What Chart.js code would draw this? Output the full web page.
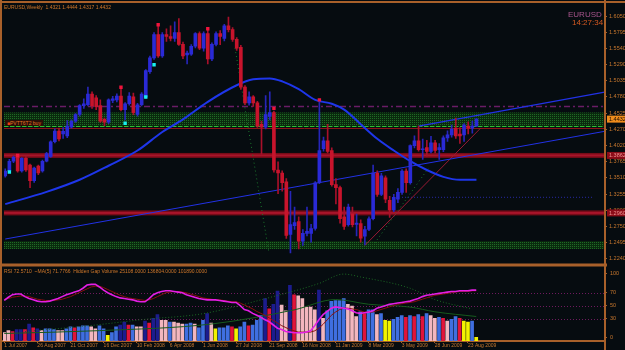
<!DOCTYPE html>
<html>
<head>
<meta charset="utf-8">
<script src="https://cdn.jsdelivr.net/npm/chart.js@4.4.1/dist/chart.umd.min.js"></script>
<style>
  html, body { margin: 0; padding: 0; background: #060c10; }
  #wrap { position: relative; width: 625px; height: 350px; overflow: hidden; background: #060c10; font-family: "Liberation Sans", Arial, sans-serif; }
  canvas { position: absolute; left: 0; }
  #main { top: 0; }
  #sub { top: 264px; }
  .txt { position: absolute; white-space: pre; font-size: 5px; line-height: 6px; color: #d0782a; }
</style>
</head>
<body>
<div id="wrap">
  <canvas id="main" width="625" height="265"></canvas>
  <canvas id="sub" width="625" height="86"></canvas>
  <div class="txt" style="left:4px;top:4px;">EURUSD,Weekly  1.4321 1.4444 1.4317 1.4432</div>
  <div class="txt" style="left:568px;top:10px;font-size:8px;line-height:9px;color:#a8558c;">EURUSD</div>
  <div class="txt" style="left:572px;top:18px;font-size:8px;line-height:9px;color:#d65a22;">14:27:34</div>
  <div class="txt" style="left:5px;top:120px;background:#2c1008;color:#e07424;padding:0 2px;"><span style="color:#f04010">■</span>PVTT6T2 buy</div>
  <div class="txt" style="left:4px;top:268px;">RSI 72.5710  ~MA(5) 71.7766  Hidden Gap Volume 25108.0000 136804.0000 101890.0000</div>
</div>
<script>
// weekly EURUSD candles, first bar = week of 1 Jul 2007
const weekOpen = [1.3541,1.3618,1.3771,1.3832,1.3618,1.3817,1.3710,1.3465,1.3694,1.3618,
  1.3771,1.3847,1.4077,1.4245,1.4200,1.4168,1.4306,1.4398,1.4505,1.4643,
  1.4658,1.4826,1.4765,1.4643,1.4428,1.4383,1.4725,1.4734,1.4795,1.4581,
  1.4673,1.4780,1.4505,1.4658,1.4780,1.5178,1.5392,1.5759,1.5423,1.5759,
  1.5729,1.5698,1.5790,1.5606,1.5438,1.5453,1.5576,1.5775,1.5545,1.5775,
  1.5377,1.5606,1.5775,1.5698,1.5897,1.5836,1.5683,1.5560,1.4933,1.4688,
  1.4780,1.4688,1.4352,1.4306,1.4474,1.4535,1.3633,1.3587,1.3449,1.2623,
  1.2761,1.2822,1.2516,1.2639,1.2639,1.2715,1.3434,1.3970,1.4092,1.3939,
  1.3403,1.3358,1.2899,1.2776,1.2944,1.2780,1.2792,1.2593,1.2700,1.2868,
  1.3587,1.3251,1.3511,1.3159,1.3006,1.3174,1.3281,1.3618,1.3434,1.4015,
  1.4092,1.3954,1.3985,1.3924,1.4061,1.3954,1.3954,1.4138,1.4184,1.4291,
  1.4199,1.4184,1.4321,1.4291,1.4321];
const weekHigh = [1.3650,1.3800,1.3850,1.3862,1.3830,1.3845,1.3725,1.3680,1.3710,1.3790,
  1.3910,1.4090,1.4280,1.4290,1.4300,1.4410,1.4420,1.4520,1.4660,1.4750,
  1.4933,1.4860,1.4800,1.4734,1.4450,1.4750,1.4790,1.4830,1.4933,1.4690,
  1.4850,1.4840,1.4680,1.4850,1.5210,1.5420,1.5790,1.5905,1.5790,1.5850,
  1.5897,1.5958,1.6010,1.5640,1.5500,1.5600,1.5790,1.5800,1.5800,1.5851,
  1.5630,1.5800,1.5820,1.5920,1.6035,1.5870,1.5710,1.5590,1.4960,1.4860,
  1.4800,1.4710,1.4400,1.4800,1.4860,1.4560,1.3760,1.3620,1.3500,1.3300,
  1.3050,1.2900,1.2700,1.3052,1.2780,1.3450,1.4720,1.4150,1.4350,1.3980,
  1.3500,1.3380,1.3050,1.3100,1.3050,1.2940,1.2850,1.2750,1.2900,1.3710,
  1.3620,1.3580,1.3540,1.3220,1.3250,1.3340,1.3640,1.3650,1.4030,1.4170,
  1.4321,1.4120,1.4100,1.4160,1.4100,1.4050,1.4170,1.4250,1.4340,1.4450,
  1.4300,1.4360,1.4390,1.4400,1.4444];
const weekLow = [1.3520,1.3600,1.3750,1.3600,1.3600,1.3610,1.3358,1.3440,1.3560,1.3600,
  1.3760,1.3830,1.4060,1.4090,1.4130,1.4140,1.4290,1.4380,1.4480,1.4600,
  1.4640,1.4600,1.4580,1.4380,1.4330,1.4360,1.4690,1.4700,1.4560,1.4420,
  1.4650,1.4500,1.4480,1.4640,1.4760,1.5150,1.5370,1.5400,1.5400,1.5650,
  1.5660,1.5650,1.5590,1.5380,1.5300,1.5430,1.5550,1.5520,1.5500,1.5300,
  1.5350,1.5580,1.5600,1.5660,1.5800,1.5650,1.5510,1.4900,1.4660,1.4650,
  1.4630,1.4300,1.3880,1.4280,1.4420,1.3600,1.3260,1.3300,1.2560,1.2333,
  1.2700,1.2394,1.2450,1.2600,1.2500,1.2690,1.3420,1.3930,1.3900,1.3380,
  1.3100,1.2800,1.2700,1.2750,1.2740,1.2600,1.2500,1.2457,1.2680,1.2850,
  1.3220,1.3230,1.3120,1.2890,1.2980,1.3120,1.3250,1.3280,1.3410,1.3980,
  1.3930,1.3800,1.3850,1.3900,1.3900,1.3800,1.3920,1.4080,1.4150,1.4130,
  1.4050,1.4080,1.4200,1.4210,1.4317];
const weekClose = [1.3618,1.3771,1.3832,1.3618,1.3817,1.3633,1.3465,1.3664,1.3587,1.3771,
  1.3893,1.4077,1.4245,1.4123,1.4240,1.4321,1.4398,1.4505,1.4643,1.4673,
  1.4826,1.4643,1.4627,1.4398,1.4383,1.4734,1.4750,1.4795,1.4581,1.4673,
  1.4795,1.4535,1.4658,1.4826,1.5193,1.5392,1.5759,1.5423,1.5759,1.5729,
  1.5698,1.5790,1.5606,1.5423,1.5468,1.5576,1.5775,1.5545,1.5775,1.5377,
  1.5606,1.5775,1.5729,1.5897,1.5836,1.5683,1.5545,1.4933,1.4688,1.4780,
  1.4688,1.4321,1.4306,1.4505,1.4535,1.3633,1.3587,1.3434,1.2608,1.2776,
  1.2807,1.2516,1.2639,1.2669,1.2715,1.3434,1.3939,1.4092,1.3924,1.3403,
  1.3358,1.2868,1.2746,1.3052,1.2776,1.2800,1.2562,1.2700,1.2868,1.3587,
  1.3251,1.3541,1.3174,1.3006,1.3205,1.3281,1.3618,1.3434,1.4015,1.4092,
  1.3954,1.3965,1.3924,1.4061,1.3939,1.3985,1.4138,1.4184,1.4275,1.4168,
  1.4168,1.4337,1.4291,1.4321,1.4432];

// moving average, read at a few weeks
const maWeek = [0,10,18,25,32,38,43,49,56,60,64,67,71,75,79,82,86,90,94,98,102,106,110,114];
const maPrice = [1.3098,1.3290,1.3480,1.3700,1.3939,1.4230,1.4428,1.4704,1.4964,1.5056,1.5071,1.5025,1.4903,1.4734,1.4673,1.4581,1.4352,1.4123,1.3939,1.3772,1.3633,1.3526,1.3480,1.3480];

// signal arrows
const buyWeek = [1,29,34,36];
const buyPrice = [1.3602,1.4367,1.4780,1.5285];
const sellWeek = [3,28,37,49,65,76];
const sellPrice = [1.3862,1.4933,1.5912,1.5851,1.4600,1.4734];

// trend lines: [week, price] end points
const channelLow = [[0,1.2550],[145,1.4240]];
const channelHigh = [[100,1.4321],[145,1.4855]];
const supportLine = [[87,1.2450],[115,1.4290]];
const dotLineA = [[55.6,1.5545],[63.8,1.2333]];
const dotLineB = [[89.4,1.2486],[102.4,1.3664]];
const blueDotLine = [[96,1.3205],[142,1.3205]];

// horizontal levels
const upperZone = [1.4536, 1.4306];
const lowerZone = [1.2516, 1.2394];
const redLevels = [1.3862, 1.2960];
const pivotLevel = 1.4643;
const dashLevel = 1.4329;
const thinRedLevel = 1.4290;
const lastPrice = 1.4432;
const priceTicks = [1.6050,1.5795,1.5540,1.5290,1.5035,1.4780,1.4525,1.4270,1.4020,1.3765,1.3510,1.3255,1.3000,1.2750,1.2495,1.2240];

// lower window
const rsiValues = [58,63,67,68,68,64,61,59,57,56,56,57,59,61,64,67,69,71,73,77,
  82,83,83,79,74,70,67,64,62,61,60,59,57,56,56,61,67,70,72,73,
  73,72,71,70,67,65,63,61,60,59,59,59,58,57,56,55,55,50,44,42,
  38,35,32,28,25,20,15,13,10,9,8,8,8,9,11,19,28,36,41,46,
  48,47,46,45,42,39,38,39,40,42,46,48,50,52,53,54,55,56,57,59,
  61,64,66,67,68,69,70,71,72,72,73,73,73,74,74];
const rsiSignal = [60,61,63,64,65,65,64,62,60,59,58,58,58,59,60,62,64,67,70,73,
  76,79,80,80,78,75,72,69,66,64,62,61,60,59,58,59,61,64,67,70,
  71,72,72,71,70,68,66,64,62,61,60,59,59,58,57,56,56,54,51,48,
  45,41,38,35,31,27,23,19,16,13,11,9,9,9,9,11,15,21,28,35,
  40,44,46,46,45,44,42,40,40,40,42,44,46,48,50,52,53,54,55,56,
  58,60,62,64,66,67,68,69,70,71,72,72,72,73,73];
const rsiLevels = [70, 50, 30];
const rsiTicks = [100, 70, 50, 30, 0];
const volume = [9,11,10,12,12,12,18,14,13,11,
  13,13,12,11,11,13,15,14,15,16,
  16,15,13,16,13,6,9,15,17,20,
  17,17,15,15,21,19,24,28,22,22,
  20,20,19,18,18,19,18,14,22,29,
  19,13,14,14,16,15,13,15,20,16,
  17,22,27,45,34,39,53,38,32,59,
  49,48,45,36,36,33,54,24,32,42,
  43,43,45,39,37,26,31,29,33,33,
  28,29,22,21,23,25,27,25,27,26,
  28,26,29,27,24,25,24,21,23,26,
  24,21,20,21,4];
// b = blue, n = navy, r = red, p = pink, y = yellow
const volumeKind = ('pprnnrnrnp' + 'bbbppbbrbb' + 'bppbbybbnn' + 'rbppnrnnpp' + 'bpppbbpbbn' +
  'pybbbrybbr' + 'bbbnrnnppn' + 'rpppppnpbb' + 'bbbpppbrbb' + 'pbyybbbrbr' + 'brbppbrpbb' + 'ryyby').split('');
const volSlowWeek = [5,20,34,48,64,76,82,86,98,104,113];
const volSlowValue = [10,16,23,29,46,61,71,68,56,44,34];
const volFastWeek = [0,23,50,70,80,88,98,104,114];
const volFastValue = [8,11,18,33,44,39,36,31,26];

const dateWeek = [0,8,16,24,32,40,48,56,64,72,80,88,96,104,112];
const dateLabels = ['1 Jul 2007','26 Aug 2007','21 Oct 2007','16 Dec 2007','10 Feb 2008','6 Apr 2008','1 Jun 2008',
  '27 Jul 2008','21 Sep 2008','16 Nov 2008','11 Jan 2009','8 Mar 2009','3 May 2009','28 Jun 2009','23 Aug 2009'];

const FRAME = '#a8602a';
const TEXT = '#c8782e';
const FONT = '"Liberation Sans", Arial, sans-serif';
const X_MIN = -0.3, X_MAX = 145.1;
const weeks = weekOpen.map((_, i) => i);

function isUp(i) { return weekClose[i] >= weekOpen[i]; }
function pts(pairs) { return pairs.map(p => ({ x: p[0], y: p[1] })); }
function zip(xs, ys) { return xs.map((x, k) => ({ x: x, y: ys[k] })); }

function dotPattern(bg, dot) {
  const c = document.createElement('canvas');
  c.width = 2; c.height = 2;
  const g = c.getContext('2d');
  g.fillStyle = bg; g.fillRect(0, 0, 2, 2);
  g.fillStyle = dot; g.fillRect(0, 0, 1, 1);
  return g.createPattern(c, 'repeat');
}

function frameLines(ctx, lines) {
  ctx.save();
  ctx.strokeStyle = FRAME;
  ctx.lineWidth = 2;
  lines.forEach(l => {
    ctx.beginPath(); ctx.moveTo(l[0], l[1]); ctx.lineTo(l[2], l[3]); ctx.stroke();
  });
  ctx.restore();
}

function priceBox(ctx, x, y, text, bg, fg) {
  ctx.fillStyle = bg;
  ctx.fillRect(x, y - 3.5, 625 - x, 7);
  ctx.fillStyle = fg;
  ctx.font = '5.5px ' + FONT;
  ctx.textBaseline = 'middle';
  ctx.fillText(text, x + 2, y + 0.5);
}

const levelsPlugin = {
  id: 'levels',
  beforeDatasetsDraw(chart) {
    const { ctx, chartArea: a, scales: { y } } = chart;
    const green = dotPattern('#0a2a0e', '#1f6a24');
    ctx.save();
    [upperZone, lowerZone].forEach(z => {
      const t = y.getPixelForValue(z[0]), b = y.getPixelForValue(z[1]);
      ctx.fillStyle = green;
      ctx.fillRect(a.left, t, a.width, b - t);
    });
    // purple dash-dot pivot
    ctx.strokeStyle = '#6a1c66';
    ctx.lineWidth = 1.5;
    ctx.setLineDash([6, 3, 2, 3]);
    let py = Math.round(y.getPixelForValue(pivotLevel)) + 0.5;
    ctx.beginPath(); ctx.moveTo(a.left, py); ctx.lineTo(a.right, py); ctx.stroke();
    // green dashed line
    ctx.strokeStyle = '#2fbf2f';
    ctx.lineWidth = 1;
    ctx.setLineDash([4, 2]);
    py = Math.round(y.getPixelForValue(dashLevel)) + 0.5;
    ctx.beginPath(); ctx.moveTo(a.left, py); ctx.lineTo(a.right, py); ctx.stroke();
    ctx.setLineDash([]);
    ctx.strokeStyle = '#8a1418';
    py = Math.round(y.getPixelForValue(thinRedLevel)) + 0.5;
    ctx.beginPath(); ctx.moveTo(a.left, py); ctx.lineTo(a.right, py); ctx.stroke();
    // red bands
    redLevels.forEach(v => {
      const c = y.getPixelForValue(v);
      ctx.fillStyle = '#760c18';
      ctx.fillRect(a.left, c - 2.5, a.width, 5);
      ctx.fillStyle = '#a8142a';
      ctx.fillRect(a.left, c - 1, a.width, 2);
    });
    ctx.restore();
  },
  afterDraw(chart) {
    const { ctx, chartArea: a, scales: { y } } = chart;
    ctx.save();
    priceBox(ctx, a.right + 2, y.getPixelForValue(lastPrice), lastPrice.toFixed(4), '#f08c1c', '#1a0c00');
    redLevels.forEach(v => priceBox(ctx, a.right + 2, y.getPixelForValue(v), v.toFixed(4), '#8c0c18', '#f09090'));
    ctx.restore();
    frameLines(ctx, [[0, 2, 625, 2], [1, 0, 1, 265], [a.right, 0, a.right, 265], [0, 264.5, a.right + 2, 264.5]]);
  }
};

const rsiLevelsPlugin = {
  id: 'rsiLevels',
  beforeDatasetsDraw(chart) {
    const { ctx, chartArea: a, scales } = chart;
    ctx.save();
    ctx.strokeStyle = '#6e1a5e';
    ctx.lineWidth = 1;
    ctx.setLineDash([1, 2]);
    rsiLevels.forEach(v => {
      const py = Math.round(scales.yR.getPixelForValue(v)) + 0.5;
      ctx.beginPath(); ctx.moveTo(a.left, py); ctx.lineTo(a.right, py); ctx.stroke();
    });
    ctx.restore();
  },
  afterDraw(chart) {
    const a = chart.chartArea;
    frameLines(chart.ctx, [[1, 0, 1, 86], [a.right, 0, a.right, 86], [0, 1.5, a.right + 2, 1.5]]);
  }
};

const blueBody = '#2a2ad6', redBody = '#c8142c';
const volColors = { b: '#3f6fe0', n: '#1c1c8e', r: '#e0143a', p: '#f2b6be', y: '#f2f200' };

new Chart(document.getElementById('main'), {
  type: 'bar',
  data: {
    datasets: [
      {
        label: 'Markers buy', type: 'line', showLine: false,
        data: zip(buyWeek, buyPrice),
        pointStyle: 'rect', pointRadius: 2.4, pointBackgroundColor: '#18f0f0', pointBorderWidth: 0,
        order: 0
      },
      {
        label: 'Markers sell', type: 'line', showLine: false,
        data: zip(sellWeek, sellPrice),
        pointStyle: 'rect', pointRadius: 2.4, pointBackgroundColor: '#f0143c', pointBorderWidth: 0,
        order: 0
      },
      {
        label: 'Body',
        data: weeks.map(i => ({ x: i, y: [weekOpen[i], weekClose[i]] })),
        backgroundColor: weeks.map(i => isUp(i) ? blueBody : redBody),
        barThickness: 3, grouped: false, order: 1
      },
      {
        label: 'Wick',
        data: weeks.map(i => ({ x: i, y: [weekLow[i], weekHigh[i]] })),
        backgroundColor: weeks.map(i => isUp(i) ? '#2626b8' : '#a8102a'),
        barThickness: 1, grouped: false, order: 2
      },
      {
        label: 'MA', type: 'line', data: zip(maWeek, maPrice),
        borderColor: '#1e36ea', borderWidth: 2, pointRadius: 0, cubicInterpolationMode: 'monotone', order: 3
      },
      { label: 'Channel low', type: 'line', data: pts(channelLow), borderColor: '#2232e6', borderWidth: 1, pointRadius: 0, order: 3 },
      { label: 'Channel high', type: 'line', data: pts(channelHigh), borderColor: '#2232e6', borderWidth: 1.2, pointRadius: 0, order: 3 },
      { label: 'Support', type: 'line', data: pts(supportLine), borderColor: '#9a1a34', borderWidth: 1, pointRadius: 0, order: 3 },
      { label: 'Dots A', type: 'line', data: pts(dotLineA), borderColor: '#1c7a2e', borderWidth: 1, borderDash: [1, 3], pointRadius: 0, order: 4 },
      { label: 'Dots B', type: 'line', data: pts(dotLineB), borderColor: '#1c7a2e', borderWidth: 1, borderDash: [1, 3], pointRadius: 0, order: 4 },
      { label: 'Level dots', type: 'line', data: pts(blueDotLine), borderColor: '#2a2aa8', borderWidth: 1, borderDash: [1, 2], pointRadius: 0, order: 4 }
    ]
  },
  options: {
    animation: false,
    responsive: false,
    devicePixelRatio: 1,
    layout: { padding: { left: 3, top: 3, right: 0, bottom: 1 } },
    plugins: { legend: { display: false }, tooltip: { enabled: false } },
    scales: {
      x: { type: 'linear', display: false, offset: false, min: X_MIN, max: X_MAX, grid: { offset: false } },
      y: {
        position: 'right',
        min: 1.22256, max: 1.62183,
        afterFit(s) { s.width = 20; },
        afterBuildTicks(s) { s.ticks = priceTicks.map(v => ({ value: v })); },
        ticks: { color: TEXT, font: { size: 5.5, family: FONT }, padding: 2, callback: v => v.toFixed(4) },
        grid: { drawOnChartArea: false, color: FRAME, tickLength: 2 },
        border: { color: FRAME, width: 1 }
      }
    }
  },
  plugins: [levelsPlugin]
});

new Chart(document.getElementById('sub'), {
  type: 'bar',
  data: {
    datasets: [
      { label: 'RSI', type: 'line', yAxisID: 'yR', data: zip(weeks, rsiValues), borderColor: '#e41ee4', borderWidth: 1.6, pointRadius: 0, order: 0 },
      { label: 'RSI MA', type: 'line', yAxisID: 'yR', data: zip(weeks, rsiSignal), borderColor: '#8a1010', borderWidth: 1, pointRadius: 0, order: 1 },
      { label: 'Vol slow', type: 'line', yAxisID: 'yV', data: zip(volSlowWeek, volSlowValue), borderColor: '#1c6a24', borderWidth: 1, borderDash: [1, 2], pointRadius: 0, cubicInterpolationMode: 'monotone', order: 2 },
      { label: 'Vol fast', type: 'line', yAxisID: 'yV', data: zip(volFastWeek, volFastValue), borderColor: '#175a1e', borderWidth: 1, pointRadius: 0, cubicInterpolationMode: 'monotone', order: 2 },
      {
        label: 'Volume', yAxisID: 'yV',
        data: weeks.map(i => ({ x: i, y: volume[i] })),
        backgroundColor: volumeKind.map(k => volColors[k]),
        barThickness: 3, grouped: false, order: 3
      }
    ]
  },
  options: {
    animation: false,
    responsive: false,
    devicePixelRatio: 1,
    layout: { padding: { left: 3, top: 2, right: 0, bottom: 0 } },
    plugins: { legend: { display: false }, tooltip: { enabled: false } },
    scales: {
      x: {
        type: 'linear', offset: false, min: X_MIN, max: X_MAX,
        afterFit(s) { s.height = 9; },
        afterBuildTicks(s) { s.ticks = dateWeek.map(v => ({ value: v })); },
        ticks: {
          align: 'start', autoSkip: false, maxRotation: 0, color: TEXT, padding: 0,
          font: { size: 5, family: FONT },
          callback: (v, i) => dateLabels[i]
        },
        grid: { drawOnChartArea: false, offset: false, color: FRAME, tickLength: 2 },
        border: { color: FRAME, width: 2 }
      },
      yR: {
        position: 'right', min: -4.82, max: 104.82,
        afterFit(s) { s.width = 20; },
        afterBuildTicks(s) { s.ticks = rsiTicks.map(v => ({ value: v })); },
        ticks: { color: TEXT, padding: 3, font: { size: 5.5, family: FONT } },
        grid: { drawOnChartArea: false, color: FRAME, tickLength: 2 },
        border: { color: FRAME, width: 1 }
      },
      yV: { display: false, min: 0, max: 75 }
    }
  },
  plugins: [rsiLevelsPlugin]
});
</script>
</body>
</html>
